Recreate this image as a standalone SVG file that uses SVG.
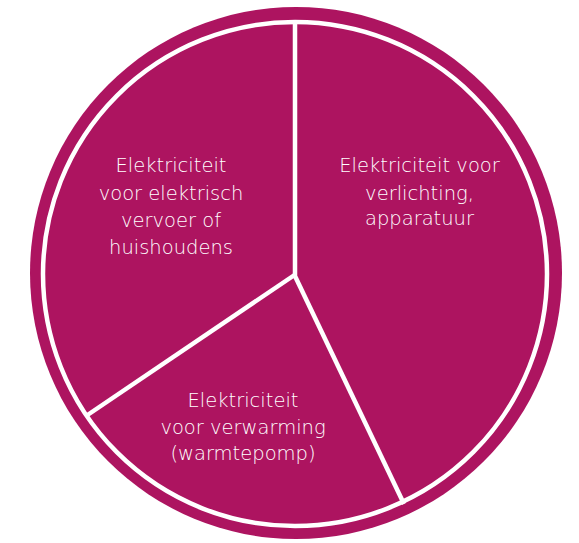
<svg xmlns="http://www.w3.org/2000/svg" width="579" height="543" viewBox="0 0 579 543">
<style>
.bg{fill:#AD1460}
.ring{fill:none;stroke:#fff;stroke-width:4.5}
.div{stroke:#fff;stroke-width:4.5;stroke-linecap:butt}
.lbl{font-family:"DejaVu Sans","Liberation Sans",sans-serif;font-weight:200;font-size:19.5px;fill:#fff;text-anchor:middle}
</style>
<rect width="579" height="543" fill="#fff"/>
<g id="pie">
<circle class="bg" cx="296" cy="273" r="266"/>
<circle class="ring" cx="295" cy="274" r="252"/>
</g>
<g id="connectors">
<line class="div" x1="295" y1="275" x2="295" y2="22"/>
<line class="div" x1="296" y1="274" x2="86" y2="416"/>
<line class="div" x1="294" y1="274" x2="404" y2="504"/>
</g>
<g id="slice-vervoer">
<text class="lbl" x="171" y="171.5">Elektriciteit</text>
<text class="lbl" x="171" y="199.5">voor elektrisch</text>
<text class="lbl" x="171" y="226.5">vervoer of</text>
<text class="lbl" x="171" y="253.5">huishoudens</text>
</g>
<g id="slice-verlichting">
<text class="lbl" x="419.5" y="171.5">Elektriciteit voor</text>
<text class="lbl" x="419.5" y="199.5">verlichting,</text>
<text class="lbl" x="419.5" y="225">apparatuur</text>
</g>
<g id="slice-verwarming">
<text class="lbl" x="243" y="406.5">Elektriciteit</text>
<text class="lbl" x="243" y="433.5">voor verwarming</text>
<text class="lbl" x="243" y="459.5">(warmtepomp)</text>
</g>
</svg>
